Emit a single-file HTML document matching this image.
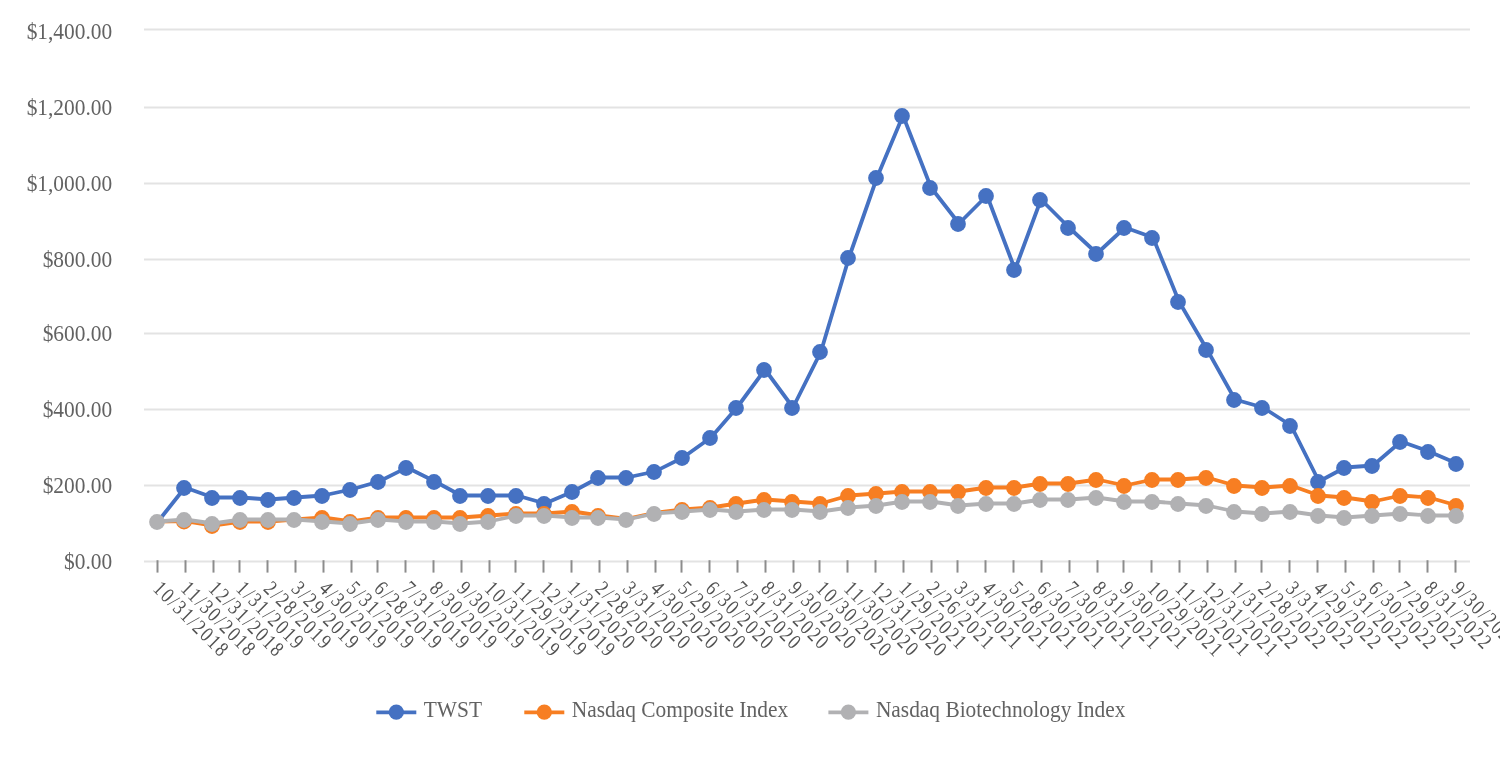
<!DOCTYPE html>
<html lang="en">
<head>
<meta charset="utf-8">
<title>Stock Performance Graph</title>
<style>
html,body{margin:0;padding:0;background:#fff;}
body{width:1500px;height:760px;overflow:hidden;}
svg{display:block;}
text{font-family:"Liberation Serif","Times New Roman",serif;font-size:22.2px;fill:#626262;}
</style>
</head>
<body>
<svg width="1500" height="760" viewBox="0 0 1500 760">
<defs><filter id="soft" x="0" y="0" width="1500" height="760" filterUnits="userSpaceOnUse"><feGaussianBlur stdDeviation="0.55"/></filter></defs>
<rect x="0" y="0" width="1500" height="760" fill="#ffffff"/>
<g filter="url(#soft)">
<g stroke="#E3E3E3" stroke-width="2" fill="none">
<line x1="144" y1="29.5" x2="1470" y2="29.5"/>
<line x1="144" y1="107.5" x2="1470" y2="107.5"/>
<line x1="144" y1="183.5" x2="1470" y2="183.5"/>
<line x1="144" y1="259.5" x2="1470" y2="259.5"/>
<line x1="144" y1="333.5" x2="1470" y2="333.5"/>
<line x1="144" y1="409.5" x2="1470" y2="409.5"/>
<line x1="144" y1="485.5" x2="1470" y2="485.5"/>
<line x1="144" y1="561.5" x2="1470" y2="561.5"/>
</g>
<g stroke="#8C8C8C" stroke-width="2" fill="none">
<line x1="157.5" y1="560.2" x2="157.5" y2="572.6"/>
<line x1="185.5" y1="560.2" x2="185.5" y2="572.6"/>
<line x1="213.5" y1="560.2" x2="213.5" y2="572.6"/>
<line x1="239.5" y1="560.2" x2="239.5" y2="572.6"/>
<line x1="267.5" y1="560.2" x2="267.5" y2="572.6"/>
<line x1="295.5" y1="560.2" x2="295.5" y2="572.6"/>
<line x1="323.5" y1="560.2" x2="323.5" y2="572.6"/>
<line x1="351.5" y1="560.2" x2="351.5" y2="572.6"/>
<line x1="377.5" y1="560.2" x2="377.5" y2="572.6"/>
<line x1="405.5" y1="560.2" x2="405.5" y2="572.6"/>
<line x1="433.5" y1="560.2" x2="433.5" y2="572.6"/>
<line x1="461.5" y1="560.2" x2="461.5" y2="572.6"/>
<line x1="489.5" y1="560.2" x2="489.5" y2="572.6"/>
<line x1="515.5" y1="560.2" x2="515.5" y2="572.6"/>
<line x1="543.5" y1="560.2" x2="543.5" y2="572.6"/>
<line x1="571.5" y1="560.2" x2="571.5" y2="572.6"/>
<line x1="599.5" y1="560.2" x2="599.5" y2="572.6"/>
<line x1="627.5" y1="560.2" x2="627.5" y2="572.6"/>
<line x1="655.5" y1="560.2" x2="655.5" y2="572.6"/>
<line x1="681.5" y1="560.2" x2="681.5" y2="572.6"/>
<line x1="709.5" y1="560.2" x2="709.5" y2="572.6"/>
<line x1="737.5" y1="560.2" x2="737.5" y2="572.6"/>
<line x1="765.5" y1="560.2" x2="765.5" y2="572.6"/>
<line x1="793.5" y1="560.2" x2="793.5" y2="572.6"/>
<line x1="819.5" y1="560.2" x2="819.5" y2="572.6"/>
<line x1="847.5" y1="560.2" x2="847.5" y2="572.6"/>
<line x1="875.5" y1="560.2" x2="875.5" y2="572.6"/>
<line x1="903.5" y1="560.2" x2="903.5" y2="572.6"/>
<line x1="931.5" y1="560.2" x2="931.5" y2="572.6"/>
<line x1="957.5" y1="560.2" x2="957.5" y2="572.6"/>
<line x1="985.5" y1="560.2" x2="985.5" y2="572.6"/>
<line x1="1013.5" y1="560.2" x2="1013.5" y2="572.6"/>
<line x1="1041.5" y1="560.2" x2="1041.5" y2="572.6"/>
<line x1="1069.5" y1="560.2" x2="1069.5" y2="572.6"/>
<line x1="1097.5" y1="560.2" x2="1097.5" y2="572.6"/>
<line x1="1123.5" y1="560.2" x2="1123.5" y2="572.6"/>
<line x1="1151.5" y1="560.2" x2="1151.5" y2="572.6"/>
<line x1="1179.5" y1="560.2" x2="1179.5" y2="572.6"/>
<line x1="1207.5" y1="560.2" x2="1207.5" y2="572.6"/>
<line x1="1235.5" y1="560.2" x2="1235.5" y2="572.6"/>
<line x1="1261.5" y1="560.2" x2="1261.5" y2="572.6"/>
<line x1="1289.5" y1="560.2" x2="1289.5" y2="572.6"/>
<line x1="1317.5" y1="560.2" x2="1317.5" y2="572.6"/>
<line x1="1345.5" y1="560.2" x2="1345.5" y2="572.6"/>
<line x1="1373.5" y1="560.2" x2="1373.5" y2="572.6"/>
<line x1="1399.5" y1="560.2" x2="1399.5" y2="572.6"/>
<line x1="1427.5" y1="560.2" x2="1427.5" y2="572.6"/>
<line x1="1455.5" y1="560.2" x2="1455.5" y2="572.6"/>
</g>
<g text-anchor="end">
<text transform="translate(112.2,38.8) scale(0.964,1)">$1,400.00</text>
<text transform="translate(112.2,115.0) scale(0.964,1)">$1,200.00</text>
<text transform="translate(112.2,190.9) scale(0.964,1)">$1,000.00</text>
<text transform="translate(112.2,266.9) scale(0.964,1)">$800.00</text>
<text transform="translate(112.2,340.9) scale(0.964,1)">$600.00</text>
<text transform="translate(112.2,417.1) scale(0.964,1)">$400.00</text>
<text transform="translate(112.2,493.1) scale(0.964,1)">$200.00</text>
<text transform="translate(112.2,569.1) scale(0.964,1)">$0.00</text>
</g>
<g fill="#525252">
<text style="font-size:21.3px;letter-spacing:2.20px;fill:#525252" transform="translate(152.1,589.7) rotate(45) scale(0.82,1)">10/31/2018</text>
<text style="font-size:21.3px;letter-spacing:2.20px;fill:#525252" transform="translate(179.7,589.7) rotate(45) scale(0.82,1)">11/30/2018</text>
<text style="font-size:21.3px;letter-spacing:2.20px;fill:#525252" transform="translate(207.4,589.7) rotate(45) scale(0.82,1)">12/31/2018</text>
<text style="font-size:21.3px;letter-spacing:2.20px;fill:#525252" transform="translate(235.0,589.7) rotate(45) scale(0.82,1)">1/31/2019</text>
<text style="font-size:21.3px;letter-spacing:2.20px;fill:#525252" transform="translate(262.6,589.7) rotate(45) scale(0.82,1)">2/28/2019</text>
<text style="font-size:21.3px;letter-spacing:2.20px;fill:#525252" transform="translate(290.2,589.7) rotate(45) scale(0.82,1)">3/29/2019</text>
<text style="font-size:21.3px;letter-spacing:2.20px;fill:#525252" transform="translate(317.9,589.7) rotate(45) scale(0.82,1)">4/30/2019</text>
<text style="font-size:21.3px;letter-spacing:2.20px;fill:#525252" transform="translate(345.5,589.7) rotate(45) scale(0.82,1)">5/31/2019</text>
<text style="font-size:21.3px;letter-spacing:2.20px;fill:#525252" transform="translate(373.1,589.7) rotate(45) scale(0.82,1)">6/28/2019</text>
<text style="font-size:21.3px;letter-spacing:2.20px;fill:#525252" transform="translate(400.7,589.7) rotate(45) scale(0.82,1)">7/31/2019</text>
<text style="font-size:21.3px;letter-spacing:2.20px;fill:#525252" transform="translate(428.4,589.7) rotate(45) scale(0.82,1)">8/30/2019</text>
<text style="font-size:21.3px;letter-spacing:2.20px;fill:#525252" transform="translate(456.0,589.7) rotate(45) scale(0.82,1)">9/30/2019</text>
<text style="font-size:21.3px;letter-spacing:2.20px;fill:#525252" transform="translate(483.6,589.7) rotate(45) scale(0.82,1)">10/31/2019</text>
<text style="font-size:21.3px;letter-spacing:2.20px;fill:#525252" transform="translate(511.2,589.7) rotate(45) scale(0.82,1)">11/29/2019</text>
<text style="font-size:21.3px;letter-spacing:2.20px;fill:#525252" transform="translate(538.9,589.7) rotate(45) scale(0.82,1)">12/31/2019</text>
<text style="font-size:21.3px;letter-spacing:2.20px;fill:#525252" transform="translate(566.5,589.7) rotate(45) scale(0.82,1)">1/31/2020</text>
<text style="font-size:21.3px;letter-spacing:2.20px;fill:#525252" transform="translate(594.1,589.7) rotate(45) scale(0.82,1)">2/28/2020</text>
<text style="font-size:21.3px;letter-spacing:2.20px;fill:#525252" transform="translate(621.7,589.7) rotate(45) scale(0.82,1)">3/31/2020</text>
<text style="font-size:21.3px;letter-spacing:2.20px;fill:#525252" transform="translate(649.4,589.7) rotate(45) scale(0.82,1)">4/30/2020</text>
<text style="font-size:21.3px;letter-spacing:2.20px;fill:#525252" transform="translate(677.0,589.7) rotate(45) scale(0.82,1)">5/29/2020</text>
<text style="font-size:21.3px;letter-spacing:2.20px;fill:#525252" transform="translate(704.6,589.7) rotate(45) scale(0.82,1)">6/30/2020</text>
<text style="font-size:21.3px;letter-spacing:2.20px;fill:#525252" transform="translate(732.2,589.7) rotate(45) scale(0.82,1)">7/31/2020</text>
<text style="font-size:21.3px;letter-spacing:2.20px;fill:#525252" transform="translate(759.9,589.7) rotate(45) scale(0.82,1)">8/31/2020</text>
<text style="font-size:21.3px;letter-spacing:2.20px;fill:#525252" transform="translate(787.5,589.7) rotate(45) scale(0.82,1)">9/30/2020</text>
<text style="font-size:21.3px;letter-spacing:2.20px;fill:#525252" transform="translate(815.1,589.7) rotate(45) scale(0.82,1)">10/30/2020</text>
<text style="font-size:21.3px;letter-spacing:2.20px;fill:#525252" transform="translate(842.7,589.7) rotate(45) scale(0.82,1)">11/30/2020</text>
<text style="font-size:21.3px;letter-spacing:2.20px;fill:#525252" transform="translate(870.4,589.7) rotate(45) scale(0.82,1)">12/31/2020</text>
<text style="font-size:21.3px;letter-spacing:2.20px;fill:#525252" transform="translate(898.0,589.7) rotate(45) scale(0.82,1)">1/29/2021</text>
<text style="font-size:21.3px;letter-spacing:2.20px;fill:#525252" transform="translate(925.6,589.7) rotate(45) scale(0.82,1)">2/26/2021</text>
<text style="font-size:21.3px;letter-spacing:2.20px;fill:#525252" transform="translate(953.2,589.7) rotate(45) scale(0.82,1)">3/31/2021</text>
<text style="font-size:21.3px;letter-spacing:2.20px;fill:#525252" transform="translate(980.9,589.7) rotate(45) scale(0.82,1)">4/30/2021</text>
<text style="font-size:21.3px;letter-spacing:2.20px;fill:#525252" transform="translate(1008.5,589.7) rotate(45) scale(0.82,1)">5/28/2021</text>
<text style="font-size:21.3px;letter-spacing:2.20px;fill:#525252" transform="translate(1036.1,589.7) rotate(45) scale(0.82,1)">6/30/2021</text>
<text style="font-size:21.3px;letter-spacing:2.20px;fill:#525252" transform="translate(1063.7,589.7) rotate(45) scale(0.82,1)">7/30/2021</text>
<text style="font-size:21.3px;letter-spacing:2.20px;fill:#525252" transform="translate(1091.4,589.7) rotate(45) scale(0.82,1)">8/31/2021</text>
<text style="font-size:21.3px;letter-spacing:2.20px;fill:#525252" transform="translate(1119.0,589.7) rotate(45) scale(0.82,1)">9/30/2021</text>
<text style="font-size:21.3px;letter-spacing:2.20px;fill:#525252" transform="translate(1146.6,589.7) rotate(45) scale(0.82,1)">10/29/2021</text>
<text style="font-size:21.3px;letter-spacing:2.20px;fill:#525252" transform="translate(1174.2,589.7) rotate(45) scale(0.82,1)">11/30/2021</text>
<text style="font-size:21.3px;letter-spacing:2.20px;fill:#525252" transform="translate(1201.9,589.7) rotate(45) scale(0.82,1)">12/31/2021</text>
<text style="font-size:21.3px;letter-spacing:2.20px;fill:#525252" transform="translate(1229.5,589.7) rotate(45) scale(0.82,1)">1/31/2022</text>
<text style="font-size:21.3px;letter-spacing:2.20px;fill:#525252" transform="translate(1257.1,589.7) rotate(45) scale(0.82,1)">2/28/2022</text>
<text style="font-size:21.3px;letter-spacing:2.20px;fill:#525252" transform="translate(1284.7,589.7) rotate(45) scale(0.82,1)">3/31/2022</text>
<text style="font-size:21.3px;letter-spacing:2.20px;fill:#525252" transform="translate(1312.4,589.7) rotate(45) scale(0.82,1)">4/29/2022</text>
<text style="font-size:21.3px;letter-spacing:2.20px;fill:#525252" transform="translate(1340.0,589.7) rotate(45) scale(0.82,1)">5/31/2022</text>
<text style="font-size:21.3px;letter-spacing:2.20px;fill:#525252" transform="translate(1367.6,589.7) rotate(45) scale(0.82,1)">6/30/2022</text>
<text style="font-size:21.3px;letter-spacing:2.20px;fill:#525252" transform="translate(1395.2,589.7) rotate(45) scale(0.82,1)">7/29/2022</text>
<text style="font-size:21.3px;letter-spacing:2.20px;fill:#525252" transform="translate(1422.9,589.7) rotate(45) scale(0.82,1)">8/31/2022</text>
<text style="font-size:21.3px;letter-spacing:2.20px;fill:#525252" transform="translate(1450.5,589.7) rotate(45) scale(0.82,1)">9/30/2022</text>
</g>
<g fill="#4471C2" stroke="none">
<polyline points="158.0,521.5 185.0,487.5 213.0,497.5 241.0,497.5 269.0,499.5 295.0,497.5 323.0,495.5 351.0,489.5 379.0,481.5 407.0,467.5 435.0,481.5 461.0,495.5 489.0,495.5 517.0,495.5 545.0,503.5 573.0,491.5 599.0,477.5 627.0,477.5 655.0,471.5 683.0,457.5 711.0,437.5 737.0,407.5 765.0,369.5 793.0,407.5 821.0,351.5 849.0,257.5 877.0,177.5 903.0,115.5 931.0,187.5 959.0,223.5 987.0,195.5 1015.0,269.5 1041.0,199.5 1069.0,227.5 1097.0,253.5 1125.0,227.5 1153.0,237.5 1179.0,301.5 1207.0,349.5 1235.0,399.5 1263.0,407.5 1291.0,425.5 1319.0,481.5 1345.0,467.5 1373.0,465.5 1401.0,441.5 1429.0,451.5 1457.0,463.5" fill="none" stroke="#4471C2" stroke-width="3.8" stroke-linejoin="round" stroke-linecap="round"/>
<circle cx="184" cy="488.0" r="7.9"/>
<circle cx="212" cy="498.0" r="7.9"/>
<circle cx="240" cy="498.0" r="7.9"/>
<circle cx="268" cy="500.0" r="7.9"/>
<circle cx="294" cy="498.0" r="7.9"/>
<circle cx="322" cy="496.0" r="7.9"/>
<circle cx="350" cy="490.0" r="7.9"/>
<circle cx="378" cy="482.0" r="7.9"/>
<circle cx="406" cy="468.0" r="7.9"/>
<circle cx="434" cy="482.0" r="7.9"/>
<circle cx="460" cy="496.0" r="7.9"/>
<circle cx="488" cy="496.0" r="7.9"/>
<circle cx="516" cy="496.0" r="7.9"/>
<circle cx="544" cy="504.0" r="7.9"/>
<circle cx="572" cy="492.0" r="7.9"/>
<circle cx="598" cy="478.0" r="7.9"/>
<circle cx="626" cy="478.0" r="7.9"/>
<circle cx="654" cy="472.0" r="7.9"/>
<circle cx="682" cy="458.0" r="7.9"/>
<circle cx="710" cy="438.0" r="7.9"/>
<circle cx="736" cy="408.0" r="7.9"/>
<circle cx="764" cy="370.0" r="7.9"/>
<circle cx="792" cy="408.0" r="7.9"/>
<circle cx="820" cy="352.0" r="7.9"/>
<circle cx="848" cy="258.0" r="7.9"/>
<circle cx="876" cy="178.0" r="7.9"/>
<circle cx="902" cy="116.0" r="7.9"/>
<circle cx="930" cy="188.0" r="7.9"/>
<circle cx="958" cy="224.0" r="7.9"/>
<circle cx="986" cy="196.0" r="7.9"/>
<circle cx="1014" cy="270.0" r="7.9"/>
<circle cx="1040" cy="200.0" r="7.9"/>
<circle cx="1068" cy="228.0" r="7.9"/>
<circle cx="1096" cy="254.0" r="7.9"/>
<circle cx="1124" cy="228.0" r="7.9"/>
<circle cx="1152" cy="238.0" r="7.9"/>
<circle cx="1178" cy="302.0" r="7.9"/>
<circle cx="1206" cy="350.0" r="7.9"/>
<circle cx="1234" cy="400.0" r="7.9"/>
<circle cx="1262" cy="408.0" r="7.9"/>
<circle cx="1290" cy="426.0" r="7.9"/>
<circle cx="1318" cy="482.0" r="7.9"/>
<circle cx="1344" cy="468.0" r="7.9"/>
<circle cx="1372" cy="466.0" r="7.9"/>
<circle cx="1400" cy="442.0" r="7.9"/>
<circle cx="1428" cy="452.0" r="7.9"/>
<circle cx="1456" cy="464.0" r="7.9"/>
</g>
<g fill="#F77E20" stroke="none">
<polyline points="158.0,521.5 185.0,521.0 213.0,525.5 241.0,521.5 269.0,521.5 295.0,519.5 323.0,517.5 351.0,521.5 379.0,517.5 407.0,517.5 435.0,517.5 461.0,517.5 489.0,515.5 517.0,513.5 545.0,513.5 573.0,511.5 599.0,515.5 627.0,518.9 655.0,512.9 683.0,509.5 711.0,507.5 737.0,503.5 765.0,499.5 793.0,501.5 821.0,503.5 849.0,495.5 877.0,493.5 903.0,491.5 931.0,491.5 959.0,491.5 987.0,487.5 1015.0,487.5 1041.0,483.5 1069.0,483.5 1097.0,479.5 1125.0,485.5 1153.0,479.5 1179.0,479.5 1207.0,477.5 1235.0,485.5 1263.0,487.5 1291.0,485.5 1319.0,495.5 1345.0,497.5 1373.0,501.5 1401.0,495.5 1429.0,497.5 1457.0,505.5" fill="none" stroke="#F77E20" stroke-width="3.8" stroke-linejoin="round" stroke-linecap="round"/>
<circle cx="184" cy="521.5" r="7.9"/>
<circle cx="212" cy="526.0" r="7.9"/>
<circle cx="240" cy="522.0" r="7.9"/>
<circle cx="268" cy="522.0" r="7.9"/>
<circle cx="322" cy="518.0" r="7.9"/>
<circle cx="350" cy="522.0" r="7.9"/>
<circle cx="378" cy="518.0" r="7.9"/>
<circle cx="406" cy="518.0" r="7.9"/>
<circle cx="434" cy="518.0" r="7.9"/>
<circle cx="460" cy="518.0" r="7.9"/>
<circle cx="488" cy="516.0" r="7.9"/>
<circle cx="516" cy="514.0" r="7.9"/>
<circle cx="544" cy="514.0" r="7.9"/>
<circle cx="572" cy="512.0" r="7.9"/>
<circle cx="598" cy="516.0" r="7.9"/>
<circle cx="682" cy="510.0" r="7.9"/>
<circle cx="710" cy="508.0" r="7.9"/>
<circle cx="736" cy="504.0" r="7.9"/>
<circle cx="764" cy="500.0" r="7.9"/>
<circle cx="792" cy="502.0" r="7.9"/>
<circle cx="820" cy="504.0" r="7.9"/>
<circle cx="848" cy="496.0" r="7.9"/>
<circle cx="876" cy="494.0" r="7.9"/>
<circle cx="902" cy="492.0" r="7.9"/>
<circle cx="930" cy="492.0" r="7.9"/>
<circle cx="958" cy="492.0" r="7.9"/>
<circle cx="986" cy="488.0" r="7.9"/>
<circle cx="1014" cy="488.0" r="7.9"/>
<circle cx="1040" cy="484.0" r="7.9"/>
<circle cx="1068" cy="484.0" r="7.9"/>
<circle cx="1096" cy="480.0" r="7.9"/>
<circle cx="1124" cy="486.0" r="7.9"/>
<circle cx="1152" cy="480.0" r="7.9"/>
<circle cx="1178" cy="480.0" r="7.9"/>
<circle cx="1206" cy="478.0" r="7.9"/>
<circle cx="1234" cy="486.0" r="7.9"/>
<circle cx="1262" cy="488.0" r="7.9"/>
<circle cx="1290" cy="486.0" r="7.9"/>
<circle cx="1318" cy="496.0" r="7.9"/>
<circle cx="1344" cy="498.0" r="7.9"/>
<circle cx="1372" cy="502.0" r="7.9"/>
<circle cx="1400" cy="496.0" r="7.9"/>
<circle cx="1428" cy="498.0" r="7.9"/>
<circle cx="1456" cy="506.0" r="7.9"/>
</g>
<g fill="#B1B1B3" stroke="none">
<polyline points="158.0,521.5 185.0,519.5 213.0,523.5 241.0,519.5 269.0,519.5 295.0,519.5 323.0,521.5 351.0,523.5 379.0,519.5 407.0,521.5 435.0,521.5 461.0,523.5 489.0,521.5 517.0,515.5 545.0,515.5 573.0,517.5 599.0,517.5 627.0,519.5 655.0,513.5 683.0,511.5 711.0,509.5 737.0,511.5 765.0,509.5 793.0,509.5 821.0,511.5 849.0,507.5 877.0,505.5 903.0,501.5 931.0,501.5 959.0,505.5 987.0,503.5 1015.0,503.5 1041.0,499.5 1069.0,499.5 1097.0,497.5 1125.0,501.5 1153.0,501.5 1179.0,503.5 1207.0,505.5 1235.0,511.5 1263.0,513.5 1291.0,511.5 1319.0,515.5 1345.0,517.5 1373.0,515.5 1401.0,513.5 1429.0,515.5 1457.0,515.5" fill="none" stroke="#B1B1B3" stroke-width="3.8" stroke-linejoin="round" stroke-linecap="round"/>
<circle cx="157" cy="522.0" r="7.9"/>
<circle cx="184" cy="520.0" r="7.9"/>
<circle cx="212" cy="524.0" r="7.9"/>
<circle cx="240" cy="520.0" r="7.9"/>
<circle cx="268" cy="520.0" r="7.9"/>
<circle cx="294" cy="520.0" r="7.9"/>
<circle cx="322" cy="522.0" r="7.9"/>
<circle cx="350" cy="524.0" r="7.9"/>
<circle cx="378" cy="520.0" r="7.9"/>
<circle cx="406" cy="522.0" r="7.9"/>
<circle cx="434" cy="522.0" r="7.9"/>
<circle cx="460" cy="524.0" r="7.9"/>
<circle cx="488" cy="522.0" r="7.9"/>
<circle cx="516" cy="516.0" r="7.9"/>
<circle cx="544" cy="516.0" r="7.9"/>
<circle cx="572" cy="518.0" r="7.9"/>
<circle cx="598" cy="518.0" r="7.9"/>
<circle cx="626" cy="520.0" r="7.9"/>
<circle cx="654" cy="514.0" r="7.9"/>
<circle cx="682" cy="512.0" r="7.9"/>
<circle cx="710" cy="510.0" r="7.9"/>
<circle cx="736" cy="512.0" r="7.9"/>
<circle cx="764" cy="510.0" r="7.9"/>
<circle cx="792" cy="510.0" r="7.9"/>
<circle cx="820" cy="512.0" r="7.9"/>
<circle cx="848" cy="508.0" r="7.9"/>
<circle cx="876" cy="506.0" r="7.9"/>
<circle cx="902" cy="502.0" r="7.9"/>
<circle cx="930" cy="502.0" r="7.9"/>
<circle cx="958" cy="506.0" r="7.9"/>
<circle cx="986" cy="504.0" r="7.9"/>
<circle cx="1014" cy="504.0" r="7.9"/>
<circle cx="1040" cy="500.0" r="7.9"/>
<circle cx="1068" cy="500.0" r="7.9"/>
<circle cx="1096" cy="498.0" r="7.9"/>
<circle cx="1124" cy="502.0" r="7.9"/>
<circle cx="1152" cy="502.0" r="7.9"/>
<circle cx="1178" cy="504.0" r="7.9"/>
<circle cx="1206" cy="506.0" r="7.9"/>
<circle cx="1234" cy="512.0" r="7.9"/>
<circle cx="1262" cy="514.0" r="7.9"/>
<circle cx="1290" cy="512.0" r="7.9"/>
<circle cx="1318" cy="516.0" r="7.9"/>
<circle cx="1344" cy="518.0" r="7.9"/>
<circle cx="1372" cy="516.0" r="7.9"/>
<circle cx="1400" cy="514.0" r="7.9"/>
<circle cx="1428" cy="516.0" r="7.9"/>
<circle cx="1456" cy="516.0" r="7.9"/>
</g>
<line x1="376.3" y1="712.3" x2="416.3" y2="712.3" stroke="#4471C2" stroke-width="3.8"/>
<circle cx="396.3" cy="712.2" r="7.6" fill="#4471C2"/>
<text transform="translate(423.8,716.8) scale(0.964,1)">TWST</text>
<line x1="524.3" y1="712.3" x2="564.3" y2="712.3" stroke="#F77E20" stroke-width="3.8"/>
<circle cx="544.3" cy="712.2" r="7.6" fill="#F77E20"/>
<text transform="translate(571.8,716.8) scale(0.964,1)">Nasdaq Composite Index</text>
<line x1="828.4" y1="712.3" x2="868.4" y2="712.3" stroke="#B1B1B3" stroke-width="3.8"/>
<circle cx="848.4" cy="712.2" r="7.6" fill="#B1B1B3"/>
<text transform="translate(875.9,716.8) scale(0.964,1)">Nasdaq Biotechnology Index</text>
</g>
</svg>
</body>
</html>
